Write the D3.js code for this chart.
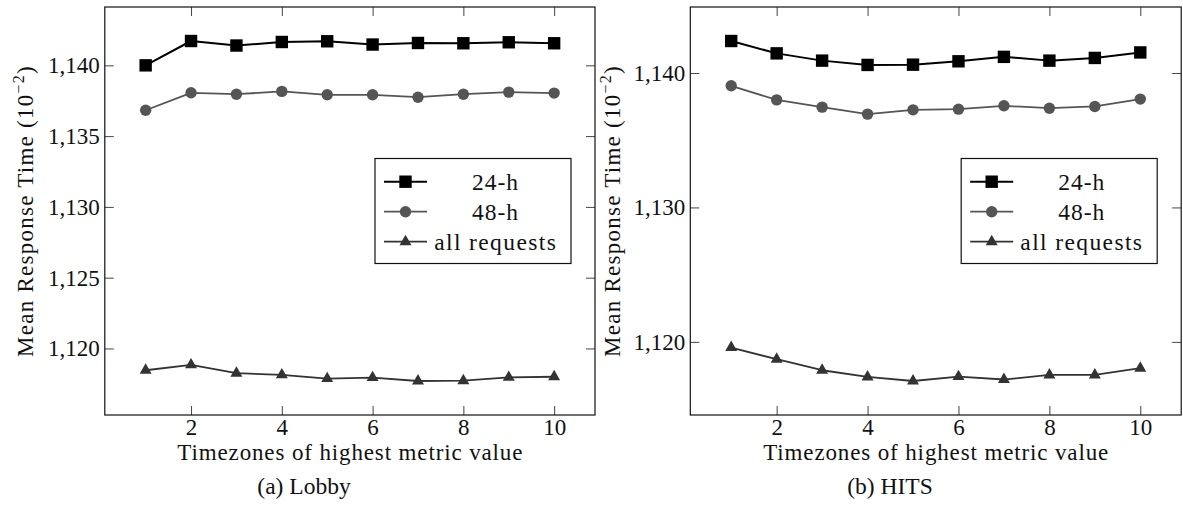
<!DOCTYPE html>
<html>
<head>
<meta charset="utf-8">
<script src="https://cdn.jsdelivr.net/npm/d3@7"></script>
</head>
<body style="margin:0;background:#fff">
<svg id="chart" width="1183" height="517"></svg>
<script>
// Timezone index (x axis)
const timezones = [1, 2, 3, 4, 5, 6, 7, 8, 9, 10];

// Lobby: mean response time (units of 10^-2)
const lobby24h = [1140.0, 1141.72, 1141.4, 1141.65, 1141.7, 1141.47, 1141.58, 1141.56, 1141.63, 1141.56];
const lobby48h = [1136.83, 1138.06, 1137.96, 1138.16, 1137.92, 1137.92, 1137.75, 1137.96, 1138.11, 1138.04];
const lobbyAll = [1118.46, 1118.84, 1118.25, 1118.13, 1117.87, 1117.94, 1117.7, 1117.72, 1117.96, 1118.0];

// HITS: mean response time (units of 10^-2)
const hits24h = [1142.38, 1141.46, 1140.92, 1140.6, 1140.62, 1140.87, 1141.2, 1140.92, 1141.12, 1141.53];
const hits48h = [1139.05, 1138.0, 1137.46, 1136.94, 1137.26, 1137.31, 1137.56, 1137.38, 1137.51, 1138.06];
const hitsAll = [1119.58, 1118.71, 1117.89, 1117.39, 1117.09, 1117.42, 1117.2, 1117.54, 1117.54, 1118.04];

// Tick values and labels
const xTicks = [2, 4, 6, 8, 10];
const lobbyYTicks = [1120, 1125, 1130, 1135, 1140];
const hitsYTicks = [1120, 1130, 1140];
const seriesNames = ["24-h", "48-h", "all requests"];
const xLabel = "Timezones of highest metric value";
const yLabel = "Mean Response Time (10";
const captions = ["(a) Lobby", "(b) HITS"];

const FONT = '"Liberation Serif", monospace';
const svg = d3.select("#chart");

const styles = [
  { color: "#000000", marker: "square", width: 2.0 },
  { color: "#555555", marker: "circle", width: 1.8 },
  { color: "#333333", marker: "triangle", width: 1.8 }
];

function setFont(sel, size) {
  return sel.style("font-family", FONT).attr("font-size", size).attr("fill", "#111");
}

// Stretch a text element to a target width using letter spacing
function fitWidth(sel, target) {
  const node = sel.node();
  const n = node.textContent.length;
  const natural = node.getComputedTextLength();
  const ls = (target - natural) / n;
  sel.style("letter-spacing", ls.toFixed(2) + "px");
  return ls;
}

function drawMarker(g, type, x, y, color) {
  if (type === "square") {
    g.append("rect").attr("x", x - 6.2).attr("y", y - 6.2)
      .attr("width", 12.4).attr("height", 12.4).attr("fill", color);
  } else if (type === "circle") {
    g.append("circle").attr("cx", x).attr("cy", y).attr("r", 5.7).attr("fill", color);
  } else {
    const r = 6.9;
    const pts = [[x, y - r], [x - r * Math.cos(Math.PI / 6), y + r / 2], [x + r * Math.cos(Math.PI / 6), y + r / 2]];
    g.append("path").attr("d", "M" + pts.map(p => p.join(",")).join("L") + "Z").attr("fill", color);
  }
}

function panel(cfg) {
  const { left, right, top, bottom, series, yTicks, ylabelX, caption, captionX } = cfg;

  // x range padded by 10% of the data span on each side
  const xExt = d3.extent(timezones);
  const xPad = (xExt[1] - xExt[0]) * 0.1;
  const x = d3.scaleLinear().domain([xExt[0] - xPad, xExt[1] + xPad]).range([left, right]);

  const all = series.flat();
  const yExt = d3.extent(all);
  const yPad = (yExt[1] - yExt[0]) * 0.1;
  const y = d3.scaleLinear().domain([yExt[0] - yPad, yExt[1] + yPad]).range([bottom, top]);

  const g = svg.append("g");
  const tickLen = 9;

  const ax = g.append("g").attr("transform", `translate(0,${bottom})`)
    .call(d3.axisBottom(x).tickValues(xTicks).tickSize(-tickLen).tickPadding(4).tickFormat(d3.format("d")));
  const axTop = g.append("g").attr("transform", `translate(0,${top})`)
    .call(d3.axisTop(x).tickValues(xTicks).tickSize(-tickLen).tickFormat(""));
  const ay = g.append("g").attr("transform", `translate(${left},0)`)
    .call(d3.axisLeft(y).tickValues(yTicks).tickSize(-tickLen).tickPadding(5).tickFormat(d3.format(",")));
  const ayR = g.append("g").attr("transform", `translate(${right},0)`)
    .call(d3.axisRight(y).tickValues(yTicks).tickSize(-tickLen).tickFormat(""));

  [ax, axTop, ay, ayR].forEach(a => {
    a.attr("font-family", null).attr("font-size", null);
    a.select(".domain").remove();
    a.selectAll(".tick line").attr("stroke", "#444").attr("stroke-width", 1);
    setFont(a.selectAll("text"), 23);
  });

  // Frame
  g.append("rect").attr("x", left).attr("y", top)
    .attr("width", right - left).attr("height", bottom - top)
    .attr("fill", "none").attr("stroke", "#111").attr("stroke-width", 1.2);

  // Series lines and markers
  const line = d3.line().x((d, i) => x(timezones[i])).y(d => y(d));
  series.forEach((vals, si) => {
    const st = styles[si];
    g.append("path").datum(vals).attr("d", line)
      .attr("fill", "none").attr("stroke", st.color).attr("stroke-width", st.width)
      .attr("stroke-linejoin", "round");
    const mg = g.append("g");
    vals.forEach((v, i) => drawMarker(mg, st.marker, x(timezones[i]), y(v), st.color));
  });

  // Legend
  const lw = 196, lh = 105;
  const lx = right - 24 - lw, ly = 158.5;
  const lg = g.append("g");
  lg.append("rect").attr("x", lx).attr("y", ly).attr("width", lw).attr("height", lh)
    .attr("fill", "#fff").attr("stroke", "#111").attr("stroke-width", 1.2);
  const legendWidths = [47, 47, 123];
  seriesNames.forEach((name, i) => {
    const st = styles[i];
    const ry = ly + 23.2 + i * 30;
    lg.append("line").attr("x1", lx + 9).attr("x2", lx + 52).attr("y1", ry).attr("y2", ry)
      .attr("stroke", st.color).attr("stroke-width", st.width);
    drawMarker(lg, st.marker, lx + 30.5, ry, st.color);
    const t = setFont(lg.append("text"), 23.5).attr("x", lx + 120).attr("y", ry + 7.8)
      .attr("text-anchor", "middle").text(name);
    const ls = fitWidth(t, legendWidths[i]);
    t.attr("x", lx + 120 + ls / 2);
  });

  // X axis label
  const xl = setFont(g.append("text"), 23).attr("x", (left + right) / 2).attr("y", 460)
    .attr("text-anchor", "middle").text(xLabel);
  const xls = fitWidth(xl, 346);
  xl.attr("x", (left + right) / 2 + xls / 2);

  // Y axis label with superscript exponent
  const yl = setFont(g.append("text"), 23)
    .attr("transform", `translate(${ylabelX},${(top + bottom) / 2}) rotate(-90)`)
    .attr("text-anchor", "middle");
  yl.append("tspan").text(yLabel);
  yl.append("tspan").attr("font-size", 16).attr("dy", -9).text("\u22122");
  yl.append("tspan").attr("dy", 9).text(")");
  fitWidth(yl, 292);

  // Caption
  setFont(g.append("text"), 23.5).attr("x", captionX).attr("y", 494)
    .attr("text-anchor", "middle").text(caption);
}

panel({
  left: 104.8, right: 595, top: 7, bottom: 415,
  series: [lobby24h, lobby48h, lobbyAll], yTicks: lobbyYTicks,
  ylabelX: 33, caption: captions[0], captionX: 304
});

panel({
  left: 690.3, right: 1181.2, top: 7, bottom: 415,
  series: [hits24h, hits48h, hitsAll], yTicks: hitsYTicks,
  ylabelX: 619.5, caption: captions[1], captionX: 890
});
</script>
</body>
</html>
